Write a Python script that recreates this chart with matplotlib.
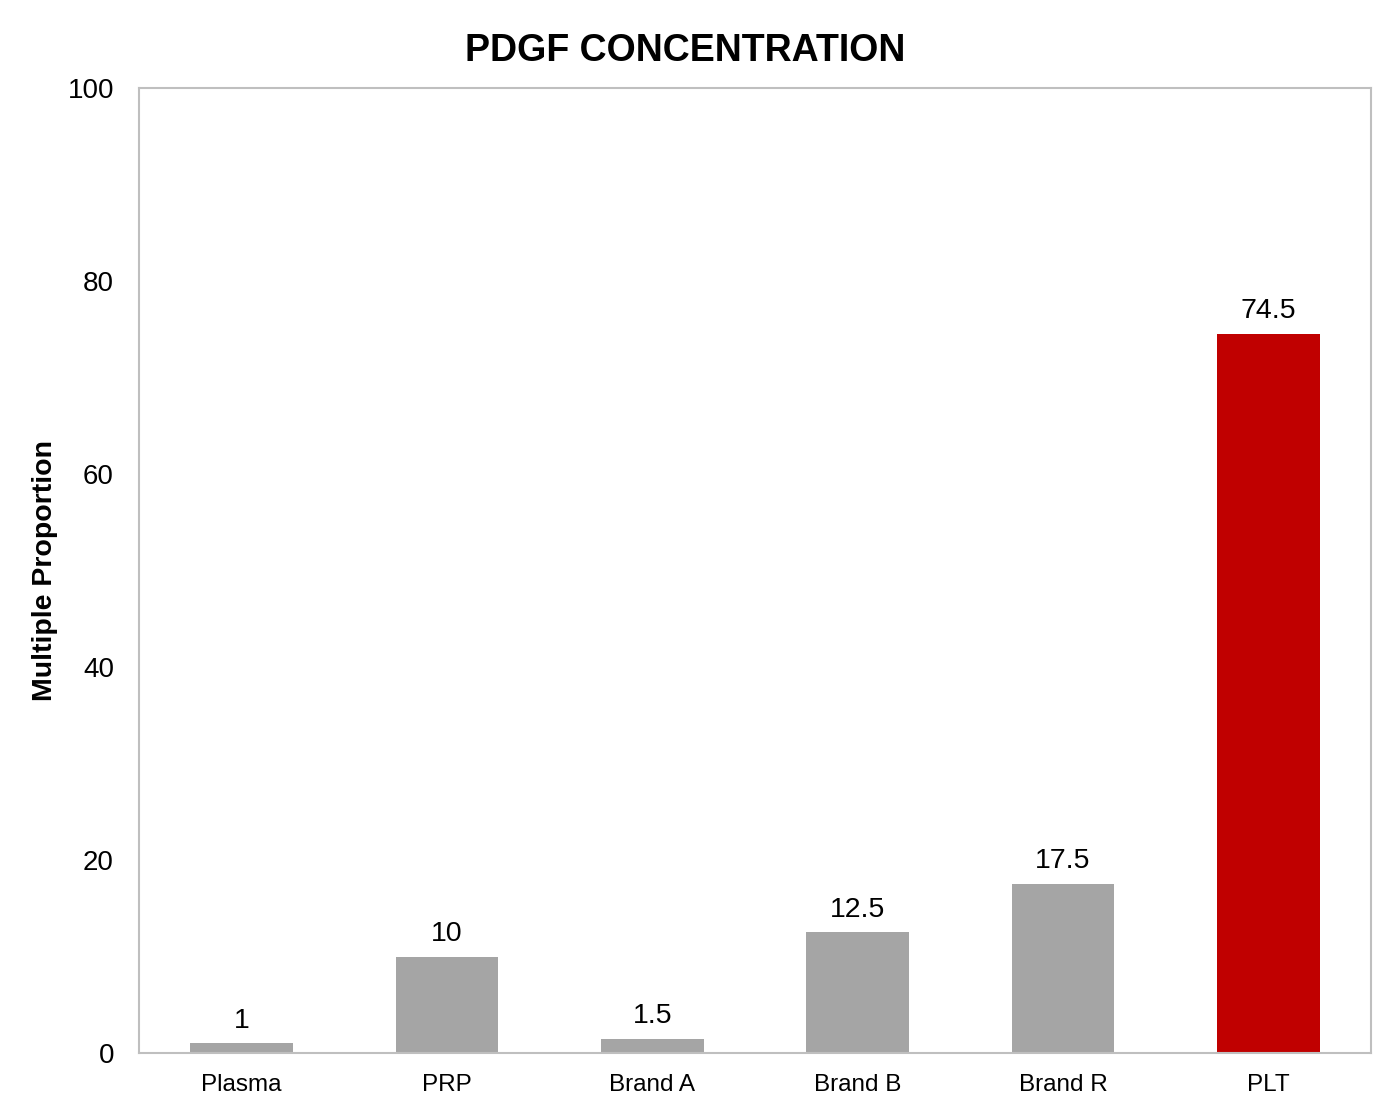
import matplotlib
matplotlib.use("Agg")
import matplotlib.pyplot as plt

categories = ["Plasma", "PRP", "Brand A", "Brand B", "Brand R", "PLT"]
values = [1, 10, 1.5, 12.5, 17.5, 74.5]
labels = ["1", "10", "1.5", "12.5", "17.5", "74.5"]
colors = ["#A5A5A5"] * 5 + ["#C00000"]

plt.rcParams['font.family'] = ['Liberation Sans', 'DejaVu Sans']

fig = plt.figure(figsize=(13.95, 11.11), dpi=100)
ax = fig.add_axes([139/1395, 1 - 1053/1111, (1371-139)/1395, (1053-88)/1111])

x = list(range(len(categories)))
bars = ax.bar(x, values, width=0.5, color=colors, zorder=2)
for xi, v, lab in zip(x, values, labels):
    ax.annotate(lab, (xi, v), xytext=(0, 7), textcoords="offset points",
                ha="center", va="bottom", fontsize=20.5)

ax.set_xlim(-0.5, len(categories) - 0.5)
ax.set_ylim(0, 100)
ax.set_yticks([0, 20, 40, 60, 80, 100])
ax.set_xticks(x)
ax.set_xticklabels(categories, fontsize=17.5)
ax.tick_params(axis='y', labelsize=20, length=0, pad=18)
ax.tick_params(axis='x', length=0, pad=15)
for s in ax.spines.values():
    s.set_color("#BFBFBF")
    s.set_linewidth(1.5)

ax.set_ylabel("Multiple Proportion", fontsize=20.5, fontweight="bold", labelpad=7)
fig.text(685/1395, 1 - 51/1111, "PDGF CONCENTRATION", ha="center", va="center",
         fontsize=27, fontweight="bold")

fig.savefig("out.png", dpi=100)
